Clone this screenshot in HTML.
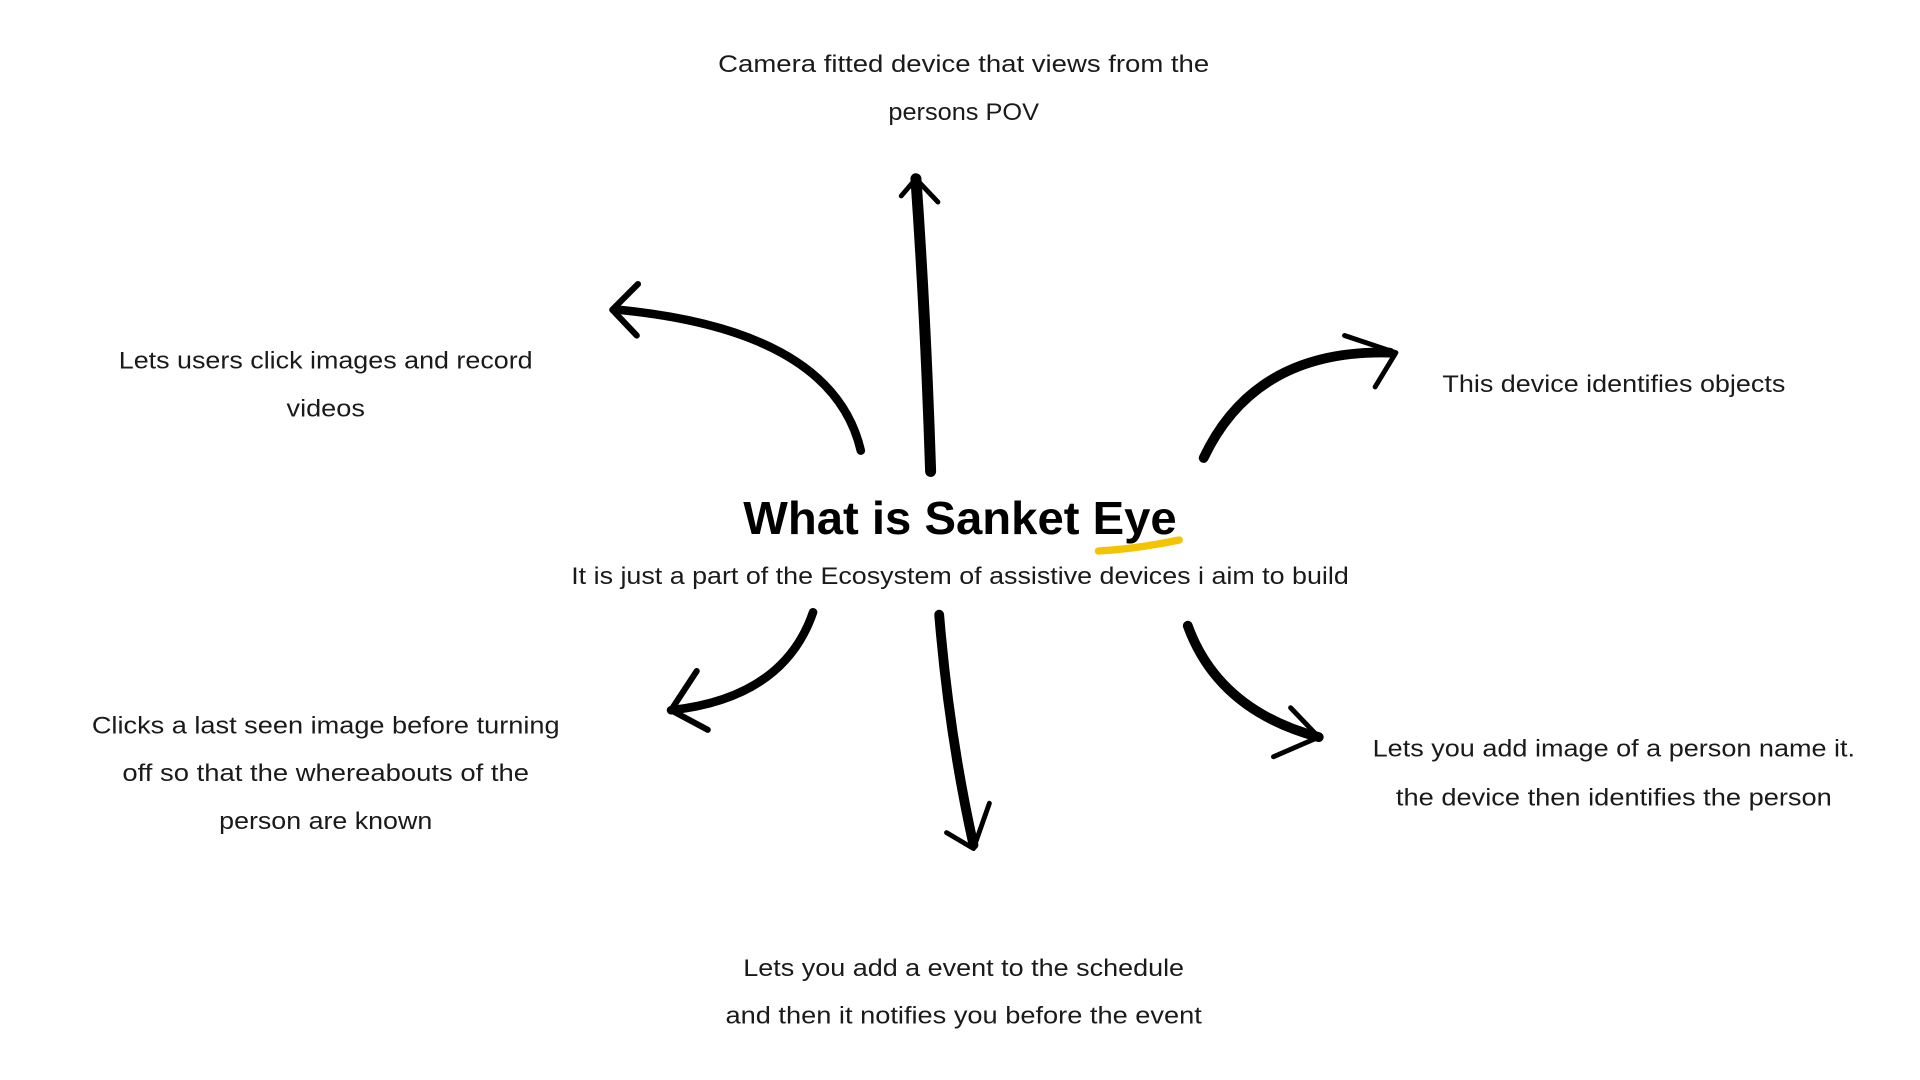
<!DOCTYPE html>
<html><head><meta charset="utf-8"><style>
html,body{margin:0;padding:0;background:#fff;width:1920px;height:1080px;overflow:hidden}
svg{display:block}
text{font-family:"Liberation Sans",sans-serif;fill:#1a1a1a}
</style></head><body>
<svg width="1920" height="1080" viewBox="0 0 1568 882" xmlns="http://www.w3.org/2000/svg">
<g font-size="20" text-anchor="middle" lengthAdjust="spacingAndGlyphs">
<text x="787" y="59" textLength="401" lengthAdjust="spacingAndGlyphs">Camera fitted device that views from the</text>
<text x="787" y="98" textLength="123" lengthAdjust="spacingAndGlyphs">persons POV</text>
<text x="266" y="301" textLength="338" lengthAdjust="spacingAndGlyphs">Lets users click images and record</text>
<text x="266" y="340" textLength="64" lengthAdjust="spacingAndGlyphs">videos</text>
<text x="1318" y="320" textLength="280" lengthAdjust="spacingAndGlyphs">This device identifies objects</text>
<text x="266" y="599" textLength="382" lengthAdjust="spacingAndGlyphs">Clicks a last seen image before turning</text>
<text x="266" y="638" textLength="332" lengthAdjust="spacingAndGlyphs">off so that the whereabouts of the</text>
<text x="266" y="677" textLength="174" lengthAdjust="spacingAndGlyphs">person are known</text>
<text x="1318" y="618" textLength="394" lengthAdjust="spacingAndGlyphs">Lets you add image of a person name it.</text>
<text x="1318" y="658" textLength="356" lengthAdjust="spacingAndGlyphs">the device then identifies the person</text>
<text x="787" y="797" textLength="360" lengthAdjust="spacingAndGlyphs">Lets you add a event to the schedule</text>
<text x="787" y="836" textLength="389" lengthAdjust="spacingAndGlyphs">and then it notifies you before the event</text>
<text x="784" y="477" textLength="635" lengthAdjust="spacingAndGlyphs">It is just a part of the Ecosystem of assistive devices i aim to build</text>
<text x="784" y="436" font-size="38" font-weight="bold" textLength="354" lengthAdjust="spacingAndGlyphs" style="fill:#000">What is Sanket Eye</text>
</g>
<path d="M897,450 Q930,448 963,441" stroke="#f5c400" stroke-width="6" fill="none" stroke-linecap="round"/>
<g stroke="#000" fill="none" stroke-linecap="round" stroke-linejoin="round">
<path d="M760,385 Q756,260 748,146" stroke-width="9"/>
<path d="M736,160 L748,146 L766,165" stroke-width="4"/>
<path d="M703,368 Q680,270 505,253" stroke-width="7"/>
<path d="M521,232 L500,253 L520,274" stroke-width="5"/>
<path d="M983,374 Q1025,285 1135,288" stroke-width="8"/>
<path d="M1098,274 L1140,288 L1123,316" stroke-width="4"/>
<path d="M664,500 Q640,570 548,580" stroke-width="7"/>
<path d="M569,548 L548,580 L578,596" stroke-width="5"/>
<path d="M767,502 Q775,600 795,690" stroke-width="8"/>
<path d="M773,680 L795,693 L808,656" stroke-width="4"/>
<path d="M970,511 Q995,580 1077,602" stroke-width="8"/>
<path d="M1054,578 L1077,602 L1040,618" stroke-width="4"/>
</g>
</svg>
</body></html>
